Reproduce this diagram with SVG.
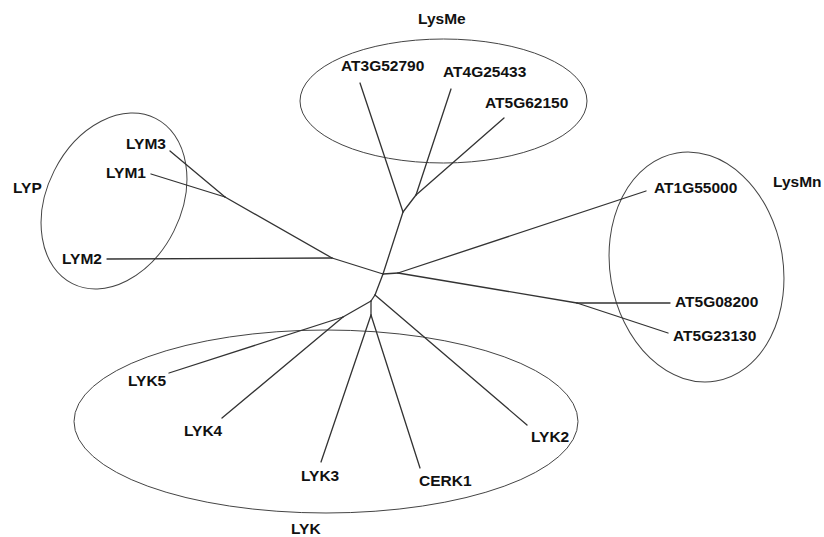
<svg xmlns="http://www.w3.org/2000/svg" width="824" height="537" viewBox="0 0 824 537">
<style>
.bg{fill:#ffffff}
.clade{fill:none;stroke:#444;stroke-width:1}
.br{fill:none;stroke:#333;stroke-width:1.3;stroke-linecap:round;stroke-linejoin:round}
text{font-family:"Liberation Sans",Arial,sans-serif;font-weight:bold;font-size:15.5px;fill:#111}
</style>
<rect class="bg" x="0" y="0" width="824" height="537"/>
<g id="clades">
  <g id="clade-LysMe"><ellipse class="clade" cx="443.5" cy="101" rx="143.5" ry="62"/><text x="418" y="24">LysMe</text></g>
  <g id="clade-LYP"><ellipse class="clade" cx="0" cy="0" rx="67" ry="92.5" transform="translate(114 201) rotate(26.7)"/><text x="13" y="193">LYP</text></g>
  <g id="clade-LysMn"><ellipse class="clade" cx="0" cy="0" rx="86.5" ry="115.7" transform="translate(696.5 267) rotate(-9.7)"/><text x="773" y="187">LysMn</text></g>
  <g id="clade-LYK"><ellipse class="clade" cx="326" cy="421.5" rx="252" ry="91.5"/><text x="291" y="534">LYK</text></g>
</g>
<g id="connectors">
  <polyline class="br" points="383,274 403,212"/>
  <polyline class="br" points="403,212 360,83"/>
  <polyline class="br" points="403,212 416,195"/>
  <polyline class="br" points="416,195 451,89"/>
  <polyline class="br" points="416,195 504,118"/>
  <polyline class="br" points="383,274 332,258"/>
  <polyline class="br" points="332,258 107,259"/>
  <polyline class="br" points="332,258 225,197"/>
  <polyline class="br" points="225,197 170,151"/>
  <polyline class="br" points="225,197 151,174"/>
  <polyline class="br" points="383,274 398,273"/>
  <polyline class="br" points="398,273 646,191"/>
  <polyline class="br" points="398,273 577,303"/>
  <polyline class="br" points="577,303 670,303"/>
  <polyline class="br" points="577,303 668,333"/>
  <polyline class="br" points="383,274 375,295"/>
  <polyline class="br" points="375,295 527,425"/>
  <polyline class="br" points="375,295 371,301"/>
  <polyline class="br" points="371,301 343,317"/>
  <polyline class="br" points="343,317 169,373"/>
  <polyline class="br" points="343,317 222,418"/>
  <polyline class="br" points="371,301 371,315"/>
  <polyline class="br" points="371,315 321,462"/>
  <polyline class="br" points="371,315 420,468"/>
</g>
<g id="AT3G52790"><text x="341" y="71">AT3G52790</text></g>
<g id="AT4G25433"><text x="443" y="77">AT4G25433</text></g>
<g id="AT5G62150"><text x="485" y="108">AT5G62150</text></g>
<g id="LYM3"><text x="126" y="149">LYM3</text></g>
<g id="LYM1"><text x="106" y="178">LYM1</text></g>
<g id="LYM2"><text x="62" y="264">LYM2</text></g>
<g id="AT1G55000"><text x="654" y="193">AT1G55000</text></g>
<g id="AT5G08200"><text x="675" y="307">AT5G08200</text></g>
<g id="AT5G23130"><text x="673" y="341">AT5G23130</text></g>
<g id="LYK5"><text x="128" y="386">LYK5</text></g>
<g id="LYK4"><text x="184" y="436">LYK4</text></g>
<g id="LYK3"><text x="301" y="480.5">LYK3</text></g>
<g id="CERK1"><text x="419" y="486">CERK1</text></g>
<g id="LYK2"><text x="531" y="441.5">LYK2</text></g>
</svg>
